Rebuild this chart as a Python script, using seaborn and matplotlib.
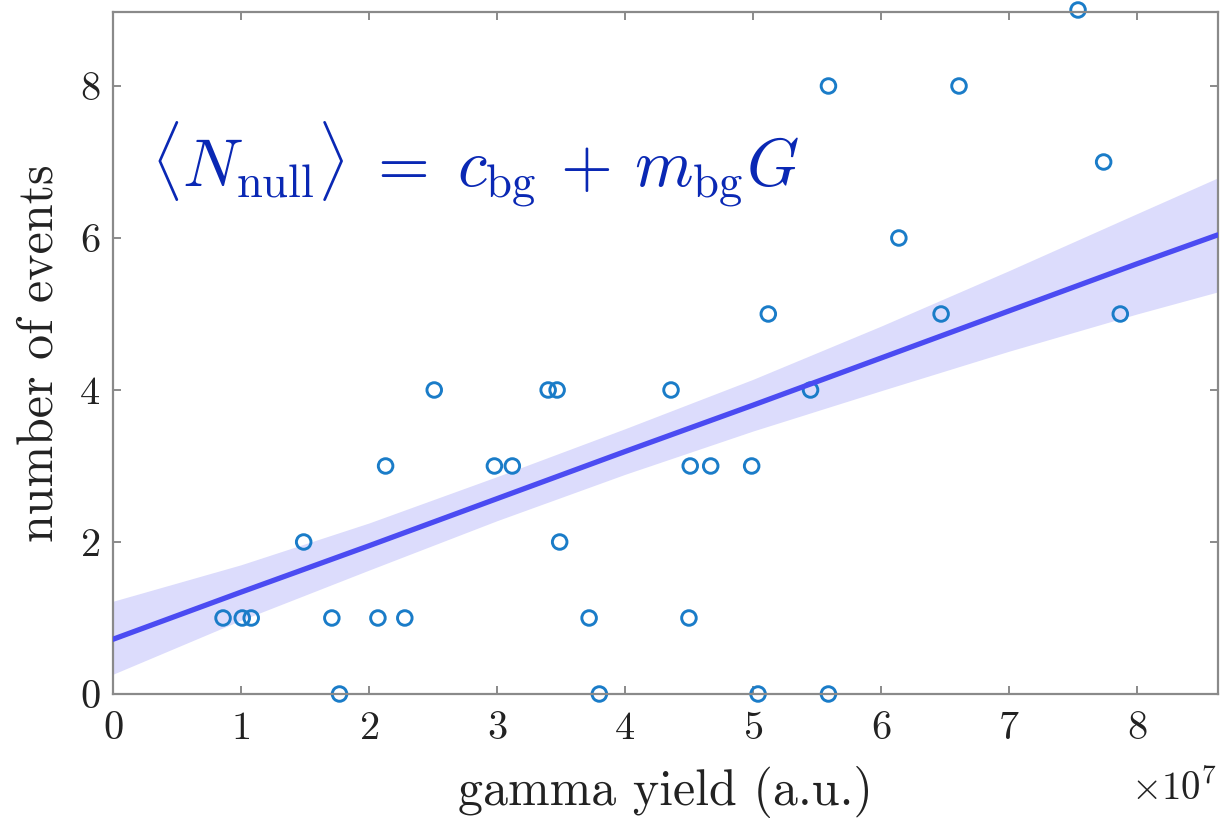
import numpy as np
import pandas as pd
import matplotlib
matplotlib.use("Agg")
import matplotlib.pyplot as plt
import seaborn as sns

# data (gamma yield in a.u., number of events)
gamma_yield = [7.54e7,
               5.59e7, 6.61e7,
               7.74e7,
               6.14e7,
               5.12e7, 6.47e7, 7.87e7,
               2.51e7, 3.40e7, 3.47e7, 4.36e7, 5.45e7,
               2.13e7, 2.98e7, 3.12e7, 4.51e7, 4.67e7, 4.99e7,
               1.49e7, 3.49e7,
               0.86e7, 1.01e7, 1.08e7, 1.71e7, 2.07e7, 2.28e7, 3.72e7, 4.50e7,
               1.77e7, 3.80e7, 5.04e7, 5.59e7]
n_events = [9,
            8, 8,
            7,
            6,
            5, 5, 5,
            4, 4, 4, 4, 4,
            3, 3, 3, 3, 3, 3,
            2, 2,
            1, 1, 1, 1, 1, 1, 1, 1,
            0, 0, 0, 0]

# fitted background model and its confidence band
fit_gamma = [0.0, 1e7, 2e7, 3e7, 4e7, 5e7, 6e7, 7e7, 8e7, 8.63e7]
fit_mean = [0.72, 1.34, 1.95, 2.57, 3.19, 3.80, 4.42, 5.04, 5.66, 6.04]
fit_upper = [1.22, 1.70, 2.25, 2.86, 3.49, 4.14, 4.84, 5.57, 6.32, 6.79]
fit_lower = [0.26, 0.97, 1.63, 2.28, 2.89, 3.46, 3.99, 4.51, 5.00, 5.29]

x_ticks = [0, 1e7, 2e7, 3e7, 4e7, 5e7, 6e7, 7e7, 8e7]
y_ticks = [0, 2, 4, 6, 8]
annotation = r"$\langle N_{\rm null}\rangle \;=\; c_{\rm bg} \,+\, m_{\rm bg}G$"

df = pd.DataFrame({"gamma": gamma_yield, "events": n_events})
fit = pd.DataFrame({"gamma": fit_gamma, "mean": fit_mean,
                    "upper": fit_upper, "lower": fit_lower})

sns.set_theme(style="white")
plt.rcParams["font.family"] = ["cmr10", "DejaVu Serif"]
plt.rcParams["mathtext.fontset"] = "cm"
plt.rcParams["axes.formatter.use_mathtext"] = True

fig = plt.figure(figsize=(12.2, 8.18), dpi=100)
ax = fig.add_axes([0.0926, 0.1516, 0.9054, 0.8334])

ax.fill_between(fit["gamma"], fit["lower"], fit["upper"],
                color="#DCDCFC", linewidth=0, zorder=1)
sns.lineplot(data=fit, x="gamma", y="mean", ax=ax, color="#4B4BF2",
             linewidth=3.8, zorder=3)
sns.scatterplot(data=df, x="gamma", y="events", ax=ax, marker="o",
                s=110, facecolors="none", edgecolor="#1A7CC8",
                linewidth=2.1, zorder=2, clip_on=False)

ax.set_xlim(0, 8.63e7)
ax.set_ylim(0, 8.97)
ax.set_xticks(x_ticks)
ax.set_yticks(y_ticks)
ax.ticklabel_format(axis="x", style="sci", scilimits=(7, 7))
ax.xaxis.get_offset_text().set_fontsize(28)
ax.xaxis.get_offset_text().set_color("#333333")
ax.xaxis.OFFSETTEXTPAD = 17

ax.tick_params(direction="in", length=6, width=1.2, colors="#777777",
               labelcolor="#222222", labelsize=29, top=True, right=True,
               bottom=True, left=True)
ax.tick_params(axis="x", pad=12)
ax.tick_params(axis="y", pad=9)
for sp in ax.spines.values():
    sp.set_color("#8a8a8a")
    sp.set_linewidth(1.6)

ax.set_xlabel("gamma yield (a.u.)", fontsize=36, color="#222222")
ax.set_ylabel("number of events", fontsize=36, color="#222222")
ax.xaxis.set_label_coords(0.5, -0.105)
ax.yaxis.set_label_coords(-0.046, 0.5)

ax.text(0.3e7, 6.68, annotation, fontsize=48, color="#0A28B4",
        ha="left", va="baseline")

fig.savefig("out.png", dpi=100)
